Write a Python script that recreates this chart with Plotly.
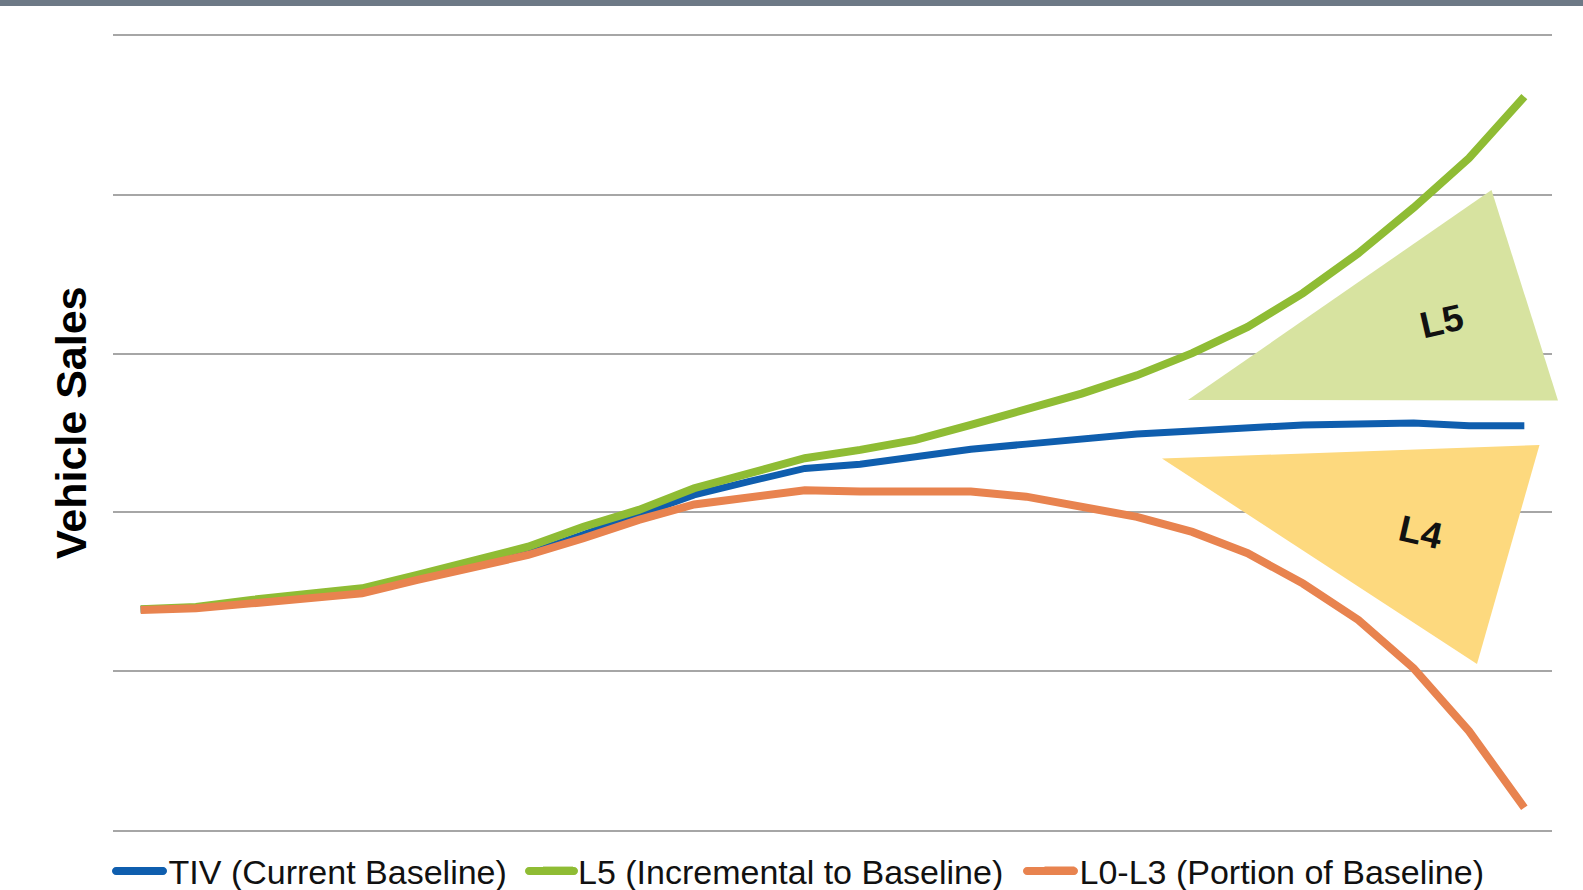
import plotly.graph_objects as go

# ---------------- data ----------------
years = list(range(2015, 2041))
tiv = [1.39, 1.40, 1.432, 1.464, 1.495, 1.58, 1.66, 1.74, 1.86, 1.984, 2.11, 2.195, 2.277, 2.303,
       2.354, 2.398, 2.43, 2.462, 2.494, 2.513, 2.532, 2.551, 2.557, 2.563, 2.545, 2.545]
l5 = [1.39, 1.405, 1.449, 1.484, 1.522, 1.606, 1.69, 1.784, 1.91, 2.016, 2.152, 2.242, 2.341, 2.394,
      2.457, 2.551, 2.646, 2.748, 2.863, 3.003, 3.168, 3.381, 3.632, 3.919, 4.23, 4.618]
l03 = [1.385, 1.396, 1.427, 1.459, 1.49, 1.575, 1.655, 1.732, 1.837, 1.953, 2.05, 2.093, 2.14, 2.131,
       2.125, 2.131, 2.099, 2.036, 1.972, 1.877, 1.743, 1.552, 1.323, 1.018, 0.623, 0.14]
series_names = ["TIV (Current Baseline)", "L5 (Incremental to Baseline)", "L0-L3 (Portion of Baseline)"]
series_colors = ["#0F5EAE", "#8FBC34", "#E8834F"]

# ---------------- layout geometry (pixels) ----------------
W, H = 1583, 890
ML, MR, MT, MB = 113, 31, 36, 60
PW, PH = W - ML - MR, H - MT - MB
FONT = "Liberation Sans, Arial, sans-serif"


def px(x):
    return (x - ML) / PW


def py(y):
    return (H - MB - y) / PH


def stadium(x0, x1, yc, r):
    # rounded bar (legend key) built in pixel space, returned as a paper-coord path
    k = 0.5523 * r
    pts = [
        ("M", [(x0 + r, yc - r)]),
        ("L", [(x1 - r, yc - r)]),
        ("C", [(x1 - r + k, yc - r), (x1, yc - k), (x1, yc)]),
        ("C", [(x1, yc + k), (x1 - r + k, yc + r), (x1 - r, yc + r)]),
        ("L", [(x0 + r, yc + r)]),
        ("C", [(x0 + r - k, yc + r), (x0, yc + k), (x0, yc)]),
        ("C", [(x0, yc - k), (x0 + r - k, yc - r), (x0 + r, yc - r)]),
    ]
    s = ""
    for cmd, ps in pts:
        s += cmd + " " + " ".join(f"{px(a):.5f},{py(b):.5f}" for a, b in ps) + " "
    return s + "Z"


legend_ids = ["legend", "legend2", "legend3"]
fig = go.Figure()
for name, vals, col, w, lg in zip(series_names, [tiv, l5, l03], series_colors, [7, 8, 8], legend_ids):
    fig.add_trace(go.Scatter(x=years, y=vals, mode="lines", name=name, legend=lg,
                             line=dict(color=col, width=w)))

shapes = []
# top grey band
shapes.append(dict(type="rect", xref="paper", yref="paper", x0=px(0), x1=px(W), y0=py(0), y1=py(6),
                   fillcolor="#6D7986", line=dict(width=0), layer="above"))
# triangles
tri5 = [(1491.5, 190), (1188, 400), (1558, 400.5)]
tri4 = [(1162, 458.5), (1539.5, 445), (1477, 664)]
for tri, col in [(tri5, "#D7E3A0"), (tri4, "#FDD97E")]:
    path = "M " + " L ".join(f"{px(a):.5f},{py(b):.5f}" for a, b in tri) + " Z"
    shapes.append(dict(type="path", xref="paper", yref="paper", path=path,
                       fillcolor=col, line=dict(width=0), layer="above"))

# longer, thicker legend keys (as in the reference)
key_spans = [(112, 167), (525, 578), (1023, 1078)]
KEY_Y = 871
for (a, b), col in zip(key_spans, series_colors):
    shapes.append(dict(type="path", xref="paper", yref="paper", path=stadium(a, b, KEY_Y, 4),
                       fillcolor=col, line=dict(width=0), layer="above"))

annotations = [
    dict(text="<b>Vehicle Sales</b>", xref="paper", yref="paper", x=px(71), y=py(423),
         textangle=-90, showarrow=False, xanchor="center", yanchor="middle",
         font=dict(family=FONT, size=43, color="#000")),
    dict(text="<b>L5</b>", xref="paper", yref="paper", x=px(1441), y=py(321),
         textangle=-13, showarrow=False, xanchor="center", yanchor="middle",
         font=dict(family=FONT, size=37, color="#111")),
    dict(text="<b>L4</b>", xref="paper", yref="paper", x=px(1421), y=py(532),
         textangle=13, showarrow=False, xanchor="center", yanchor="middle",
         font=dict(family=FONT, size=37, color="#111")),
]

legend_x = [128.6, 538, 1039.5]
LEG_TOP = 842
legends = {}
for lg, lx in zip(legend_ids, legend_x):
    legends[lg] = dict(orientation="h", x=px(lx), xanchor="left", y=py(LEG_TOP), yanchor="top",
                       font=dict(family=FONT, size=34, color="#111"),
                       bgcolor="rgba(0,0,0,0)", borderwidth=0)

fig.update_layout(
    width=W, height=H,
    margin=dict(l=ML, r=MR, t=MT, b=MB, autoexpand=False),
    paper_bgcolor="white", plot_bgcolor="white",
    shapes=shapes, annotations=annotations,
    showlegend=True,
    **legends,
    xaxis=dict(range=[2014.5, 2040.5], showticklabels=False, showgrid=False, zeroline=False,
               showline=True, mirror=True, linecolor="#A6A6A6", linewidth=1.5, ticks=""),
    yaxis=dict(range=[0, 5], dtick=1, tick0=0, showticklabels=False, showgrid=True,
               gridcolor="#A6A6A6", gridwidth=1.5, zeroline=False, showline=False, ticks=""),
)

fig.write_html("out.html")
